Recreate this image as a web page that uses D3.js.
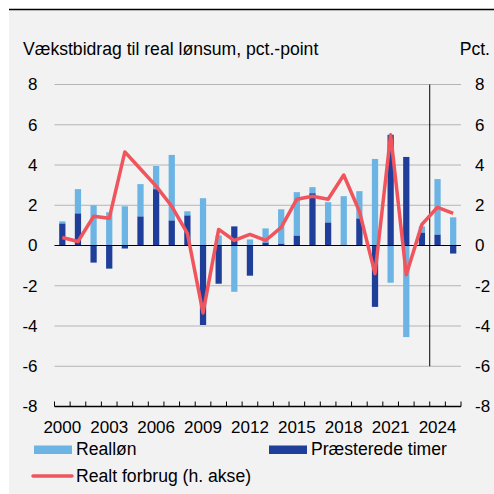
<!DOCTYPE html>
<html>
<head>
<meta charset="utf-8">
<script src="https://cdn.jsdelivr.net/npm/d3@7"></script>
<style>
  body { margin: 0; background: #ffffff; }
  svg text { font-family: "Liberation Sans", Arial, sans-serif; fill: #000; }
</style>
</head>
<body>
<div class="canvas"></div>
<script>
// data
const years = d3.range(2000, 2026);
const realloen = [0.1, 1.2, 2.0, 1.65, 1.95, 1.6, 1.15, 3.25, 0.2, 2.35, 0.5, -2.3, 0.3,
    0.7, 1.7, 2.15, 0.3, 1.0, 2.4, 1.35, 4.3, -1.85, -4.55, 0.3, 2.75, 1.4];
const timer = [1.1, 1.6, -0.85, -1.15, -0.15, 1.45, 2.8, 1.25, 1.5, -3.95, -1.9, 0.95, -1.5,
    0.15, 0.1, 0.5, 2.6, 1.15, 0.05, 1.35, -3.05, 5.5, 4.4, 0.65, 0.55, -0.4];
const forbrug = [0.4, 0.2, 1.45, 1.35, 4.65, 3.8, 2.95, 1.95, 0.6, -3.35, 0.8, 0.25, 0.55,
    0.25, 0.9, 2.3, 2.45, 2.3, 3.5, 1.7, -1.4, 5.5, -1.45, 1.05, 1.9, 1.6];
const yTicks = [-8, -6, -4, -2, 0, 2, 4, 6, 8];
const xLabelYears = [2000, 2003, 2006, 2009, 2012, 2015, 2018, 2021, 2024];
const forecastStart = 2024;

const svgDims = { width: 494, height: 494 };
const margin = { top: 84.5, right: 33, bottom: 87.5, left: 54.5 };
const graphWidth = svgDims.width - margin.left - margin.right;
const graphHeight = svgDims.height - margin.top - margin.bottom;
const fontSize = '17px';
const bigFont = '17.6px';

const svg = d3.select('.canvas')
    .append('svg')
    .attr('width', svgDims.width)
    .attr('height', svgDims.height);

// background panel
svg.append('rect')
    .attr('x', 9).attr('y', 9)
    .attr('width', svgDims.width - 9).attr('height', svgDims.height - 9)
    .attr('fill', '#f2f2f2');
svg.append('line')
    .attr('x1', 9).attr('x2', svgDims.width)
    .attr('y1', 9.5).attr('y2', 9.5)
    .attr('stroke', '#000').attr('stroke-width', 1.5);

svg.append('text')
    .attr('x', 23).attr('y', 55)
    .style('font-size', bigFont)
    .text('Vækstbidrag til real lønsum, pct.-point');
svg.append('text')
    .attr('x', 490).attr('y', 55)
    .attr('text-anchor', 'end')
    .style('font-size', bigFont)
    .text('Pct.');

const graph = svg.append('g')
    .attr('transform', `translate(${margin.left}, ${margin.top})`);

const x = d3.scaleBand()
    .domain(years)
    .range([0, graphWidth])
    .paddingInner(0.6)
    .paddingOuter(0.3);

const y = d3.scaleLinear()
    .domain([-8, 8])
    .range([graphHeight, 0]);

// gridlines
graph.append('g')
    .selectAll('line')
    .data(yTicks.filter(d => d !== -8 && d !== 0))
    .enter().append('line')
        .attr('x1', 0).attr('x2', graphWidth)
        .attr('y1', d => y(d)).attr('y2', d => y(d))
        .attr('stroke', '#b4b4b4')
        .attr('stroke-width', 1);

// stacked bars
const table = years.map((yr, i) => ({ year: yr, timer: timer[i], realloen: realloen[i] }));
const stack = d3.stack()
    .keys(['timer', 'realloen'])
    .offset(d3.stackOffsetDiverging);
const colors = { timer: '#1f3e9a', realloen: '#6cb4e4' };

graph.append('g')
    .selectAll('g')
    .data(stack(table))
    .enter().append('g')
        .attr('fill', d => colors[d.key])
    .selectAll('rect')
    .data(d => d)
    .enter().append('rect')
        .attr('x', d => x(d.data.year))
        .attr('width', x.bandwidth())
        .attr('y', d => y(Math.max(d[0], d[1])))
        .attr('height', d => Math.abs(y(d[0]) - y(d[1])));

// zero line
graph.append('line')
    .attr('x1', 0).attr('x2', graphWidth)
    .attr('y1', y(0)).attr('y2', y(0))
    .attr('stroke', '#000').attr('stroke-width', 1);

// forecast divider
const step = x.step();
const xDiv = x(forecastStart) - (step - x.bandwidth()) / 2;
graph.append('line')
    .attr('x1', xDiv).attr('x2', xDiv)
    .attr('y1', y(8)).attr('y2', y(-6))
    .attr('stroke', '#000').attr('stroke-width', 1);

// consumption line (right axis uses same scale)
const line = d3.line()
    .x((d, i) => x(years[i]) + x.bandwidth() / 2)
    .y(d => y(d));
graph.append('path')
    .datum(forbrug)
    .attr('fill', 'none')
    .attr('stroke', '#f0545c')
    .attr('stroke-width', 3.5)
    .attr('stroke-linejoin', 'round')
    .attr('d', line);

// x axis
const xAxisGroup = graph.append('g')
    .attr('transform', `translate(0, ${graphHeight})`);
xAxisGroup.append('line')
    .attr('x1', 0).attr('x2', graphWidth)
    .attr('y1', 0).attr('y2', 0)
    .attr('stroke', '#000').attr('stroke-width', 1.5);
xAxisGroup.selectAll('.tick')
    .data(d3.range(years.length + 1))
    .enter().append('line')
        .attr('x1', i => i * step).attr('x2', i => i * step)
        .attr('y1', 0).attr('y2', -5)
        .attr('stroke', '#000').attr('stroke-width', 1);
xAxisGroup.selectAll('text')
    .data(xLabelYears)
    .enter().append('text')
        .attr('x', d => x(d) + x.bandwidth() / 2)
        .attr('y', 26)
        .attr('text-anchor', 'middle')
        .style('font-size', fontSize)
        .text(d => d);

// y axes labels
graph.append('g')
    .selectAll('text')
    .data(yTicks)
    .enter().append('text')
        .attr('x', -17)
        .attr('y', d => y(d))
        .attr('dy', '0.35em')
        .attr('text-anchor', 'end')
        .style('font-size', fontSize)
        .text(d => d);
graph.append('g')
    .selectAll('text')
    .data(yTicks)
    .enter().append('text')
        .attr('x', graphWidth + 14)
        .attr('y', d => y(d))
        .attr('dy', '0.35em')
        .attr('text-anchor', 'start')
        .style('font-size', fontSize)
        .text(d => d);

// legend
const legend = svg.append('g');
legend.append('rect').attr('x', 34).attr('y', 445.5).attr('width', 38).attr('height', 8.5)
    .attr('fill', colors.realloen);
legend.append('text').attr('x', 76).attr('y', 455).style('font-size', bigFont).text('Realløn');
legend.append('rect').attr('x', 269).attr('y', 445.5).attr('width', 38).attr('height', 8.5)
    .attr('fill', colors.timer);
legend.append('text').attr('x', 311).attr('y', 455).style('font-size', bigFont).text('Præsterede timer');
legend.append('line').attr('x1', 33).attr('x2', 72).attr('y1', 476).attr('y2', 476)
    .attr('stroke', '#f0545c').attr('stroke-width', 3.5).attr('stroke-linecap', 'round');
legend.append('text').attr('x', 76).attr('y', 482).style('font-size', bigFont).text('Realt forbrug (h. akse)');
</script>
</body>
</html>
